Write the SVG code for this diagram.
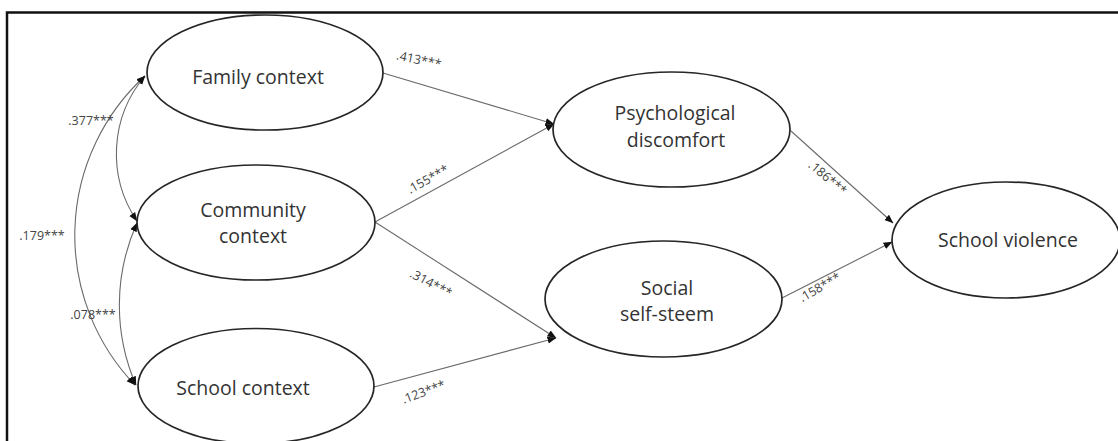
<svg xmlns="http://www.w3.org/2000/svg" width="1118" height="441" viewBox="0 0 1118 441">
<defs>
<marker id="ah" markerUnits="userSpaceOnUse" markerWidth="9" markerHeight="8" refX="8.5" refY="3.5" orient="auto-start-reverse" viewBox="0 0 9 7">
<path d="M0,0 L9,3.5 L0,7 z" fill="#111"/>
</marker>
<style>
.node ellipse{fill:#fff;stroke:#262626;stroke-width:1.7}
.node text{font-family:"Open Sans","Liberation Sans",sans-serif;font-size:19.5px;fill:#333;text-anchor:middle}
.edge{fill:none;stroke:#6a6a6a;stroke-width:1.1;marker-end:url(#ah)}
.cov{fill:none;stroke:#6a6a6a;stroke-width:1.1;marker-start:url(#ah);marker-end:url(#ah)}
.lbl{font-family:"Open Sans","Liberation Sans",sans-serif;font-size:12.5px;fill:#444;text-anchor:middle}
</style>
</defs>
<rect x="0" y="0" width="1118" height="441" fill="#fff"/>
<rect x="7" y="12.5" width="1125" height="450" fill="none" stroke="#111" stroke-width="2.5"/>

<g id="connectors">
<path class="edge" d="M383,73 L554,124"/>
<path class="edge" d="M375,222 L554,124"/>
<path class="edge" d="M375,222 L556,338"/>
<path class="edge" d="M374,387 L556,338"/>
<path class="edge" d="M791,131 L893,223"/>
<path class="edge" d="M782,298 L892,242"/>
<path class="cov" d="M145,76 A216,216 0 0,0 135,385"/>
<path class="cov" d="M145,76 A120,120 0 0,0 137,221"/>
<path class="cov" d="M137,223 A200,200 0 0,0 136,385"/>
<text class="lbl" transform="translate(91,125)">.377***</text>
<text class="lbl" transform="translate(42,240)">.179***</text>
<text class="lbl" transform="translate(93,319)">.078***</text>
<text class="lbl" transform="translate(418,64) rotate(12)">.413***</text>
<text class="lbl" transform="translate(430,183) rotate(-29)">.155***</text>
<text class="lbl" transform="translate(429,287) rotate(28)">.314***</text>
<text class="lbl" transform="translate(425,396) rotate(-20)">.123***</text>
<text class="lbl" transform="translate(825,181) rotate(40)">.186***</text>
<text class="lbl" transform="translate(822,291) rotate(-30)">.158***</text>
</g>

<g id="family" class="node">
<ellipse cx="265" cy="72.5" rx="118" ry="57.5"/>
<text x="258" y="84">Family context</text>
</g>
<g id="community" class="node">
<ellipse cx="256" cy="222.5" rx="119" ry="57.5"/>
<text x="253" y="217">Community</text>
<text x="253" y="243">context</text>
</g>
<g id="school" class="node">
<ellipse cx="256" cy="386" rx="118" ry="57.5"/>
<text x="243" y="395">School context</text>
</g>
<g id="psych" class="node">
<ellipse cx="671.5" cy="129.5" rx="118.5" ry="57.5"/>
<text x="675" y="120">Psychological</text>
<text x="676" y="147">discomfort</text>
</g>
<g id="social" class="node">
<ellipse cx="663.5" cy="299" rx="118.5" ry="58"/>
<text x="667" y="295">Social</text>
<text x="667" y="321">self-steem</text>
</g>
<g id="violence" class="node">
<ellipse cx="1006" cy="240" rx="114" ry="58"/>
<text x="1008" y="247">School violence</text>
</g>
</svg>
